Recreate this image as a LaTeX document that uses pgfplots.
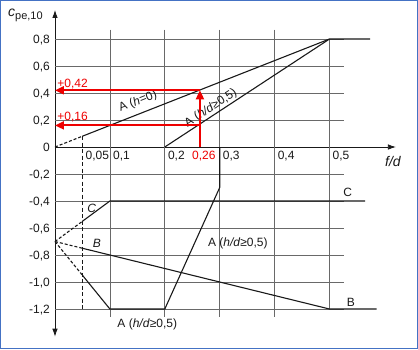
\documentclass[border=0pt]{standalone}
\usepackage{fontspec}
\setmainfont{Liberation Sans}
\usepackage{pgfplots}
\pgfplotsset{compat=1.18}
\usetikzlibrary{arrows.meta}
\definecolor{frameblue}{RGB}{68,114,196}
\definecolor{gridc}{RGB}{105,105,105}
\definecolor{curve}{RGB}{25,25,25}
\definecolor{myred}{RGB}{238,0,0}
\newcommand{\lbl}{\fontsize{12}{14}\selectfont}
\begin{document}
\begin{tikzpicture}
\begin{axis}[
  x=549pt, y=135pt,
  xmin=0, xmax=0.621, ymin=-1.405, ymax=1.015,
  axis lines=middle,
  clip=false,
  axis line style={curve, line width=0.8pt},
  x axis line style={-{Latex[length=8pt,width=5.5pt]}},
  y axis line style={{Latex[length=8pt,width=5.5pt]}-{Latex[length=8pt,width=5.5pt]}},
  xtick={0.05,0.1,0.2,0.3,0.4,0.5},
  xticklabels={{0,05},{0,1},{0,2},{0,3},{0,4},{0,5}},
  ytick={-1.2,-1,-0.8,-0.6,-0.4,-0.2,0,0.2,0.4,0.6,0.8},
  yticklabels={{-1,2},{-1,0},{-0,8},{-0,6},{-0,4},{-0,2},{0},{0,2},{0,4},{0,6},{0,8}},
  hide obscured x ticks=false, hide obscured y ticks=false,
  major tick length=0pt,
  tick style={draw=none},
  xticklabel style={anchor=base west, inner sep=0pt, xshift=3pt, yshift=-12.5pt, font=\lbl, text=curve},
  yticklabel style={anchor=base east, inner sep=0pt, xshift=-5pt, yshift=-4.3pt, font=\lbl, text=curve},
]
% grid
\pgfplotsinvokeforeach{0.8,0.6,0.4,0.2,-0.2,-0.4,-0.6,-0.8,-1.0,-1.2}{
  \draw[gridc, line width=0.7pt] (axis cs:0,#1) -- (axis cs:0.527,#1);
}
\pgfplotsinvokeforeach{0.1,0.2,0.3,0.4}{
  \draw[gridc, line width=0.7pt] (axis cs:#1,0.87) -- (axis cs:#1,-1.26);
}
\draw[gridc, line width=0.7pt] (axis cs:0.5,0.8) -- (axis cs:0.5,-1.2);
\draw[curve, line width=0.8pt, dash pattern=on 4pt off 2.5pt] (axis cs:0.05,0.08) -- (axis cs:0.05,-1.2);

% A (h=0)
\addplot[curve, line width=1.1pt, dash pattern=on 3pt off 2pt] coordinates {(0,0) (0.05,0.08)};
\addplot[curve, line width=1.1pt] coordinates {(0.05,0.08) (0.5,0.8) (0.574,0.8)};
% A (h/d>=0.5) positive
\addplot[curve, line width=1.1pt] coordinates {(0.2,0) (0.5,0.8)};
% A (h/d>=0.5) negative
\addplot[curve, line width=1.1pt, dash pattern=on 3pt off 2pt] coordinates {(0,-0.7) (0.05,-0.95)};
\addplot[curve, line width=1.1pt] coordinates {(0.05,-0.95) (0.1,-1.2) (0.2,-1.2) (0.3,-0.3) (0.3,0)};
% C
\addplot[curve, line width=1.1pt, dash pattern=on 3pt off 2pt] coordinates {(0,-0.7) (0.05,-0.55)};
\addplot[curve, line width=1.1pt] coordinates {(0.05,-0.55) (0.1,-0.4) (0.565,-0.4)};
% B
\addplot[curve, line width=1.1pt, dash pattern=on 3pt off 2pt] coordinates {(0,-0.7) (0.05,-0.75)};
\addplot[curve, line width=1.1pt] coordinates {(0.05,-0.75) (0.5,-1.2) (0.586,-1.2)};

% curve labels
\node[rotate=21.5, font=\lbl, text=curve] at (axis cs:0.151,0.335) {A (\textit{h}=0)};
\node[rotate=33.3, font=\lbl, text=curve] at (axis cs:0.284,0.287) {A (\textit{h/d}≥0,5)};
\node[font=\lbl\itshape, text=curve] at (axis cs:0.067,-0.452) {C};
\node[font=\lbl\itshape, text=curve] at (axis cs:0.0765,-0.711) {B};
\node[font=\lbl, text=curve] at (axis cs:0.168,-1.311) {A (\textit{h/d}≥0,5)};
\node[font=\lbl, text=curve] at (axis cs:0.333,-0.715) {A (\textit{h/d}≥0,5)};
\node[font=\lbl, text=curve] at (axis cs:0.533,-0.333) {C};
\node[font=\lbl, text=curve] at (axis cs:0.539,-1.148) {B};

% red reading arrows
\addplot[myred, line width=2pt, -{Triangle[length=9pt,width=8pt]}] coordinates {(0.264,0) (0.264,0.42)};
\addplot[myred, line width=2pt, -{Triangle[length=9pt,width=8pt]}] coordinates {(0.264,0.42) (0,0.42)};
\addplot[myred, line width=2pt, -{Triangle[length=9pt,width=8pt]}] coordinates {(0.264,0.16) (0,0.16)};
\node[anchor=base west, inner sep=0pt, font=\lbl, text=myred] at (axis cs:0.004,0.444) {+0,42};
\node[anchor=base west, inner sep=0pt, font=\lbl, text=myred] at (axis cs:0.004,0.200) {+0,16};
\node[anchor=base, inner sep=0pt, font=\lbl, text=myred] at (axis cs:0.271,-0.0926) {0,26};

% axis titles
\node[anchor=base west, inner sep=0pt, text=curve] at (axis cs:-0.0856,0.965)
  {{\fontsize{14}{16}\selectfont\itshape c}\raisebox{-3pt}{\fontsize{11}{13}\selectfont pe,10}};
\node[anchor=base west, inner sep=0pt, text=curve] at (axis cs:0.601,-0.146)
  {\fontsize{14}{16}\selectfont\itshape f/d};

% frame
\draw[frameblue, line width=1.5pt] (axis cs:-0.0988,-1.4907) rectangle (axis cs:0.6598,1.0833);
\end{axis}
\end{tikzpicture}
\end{document}
